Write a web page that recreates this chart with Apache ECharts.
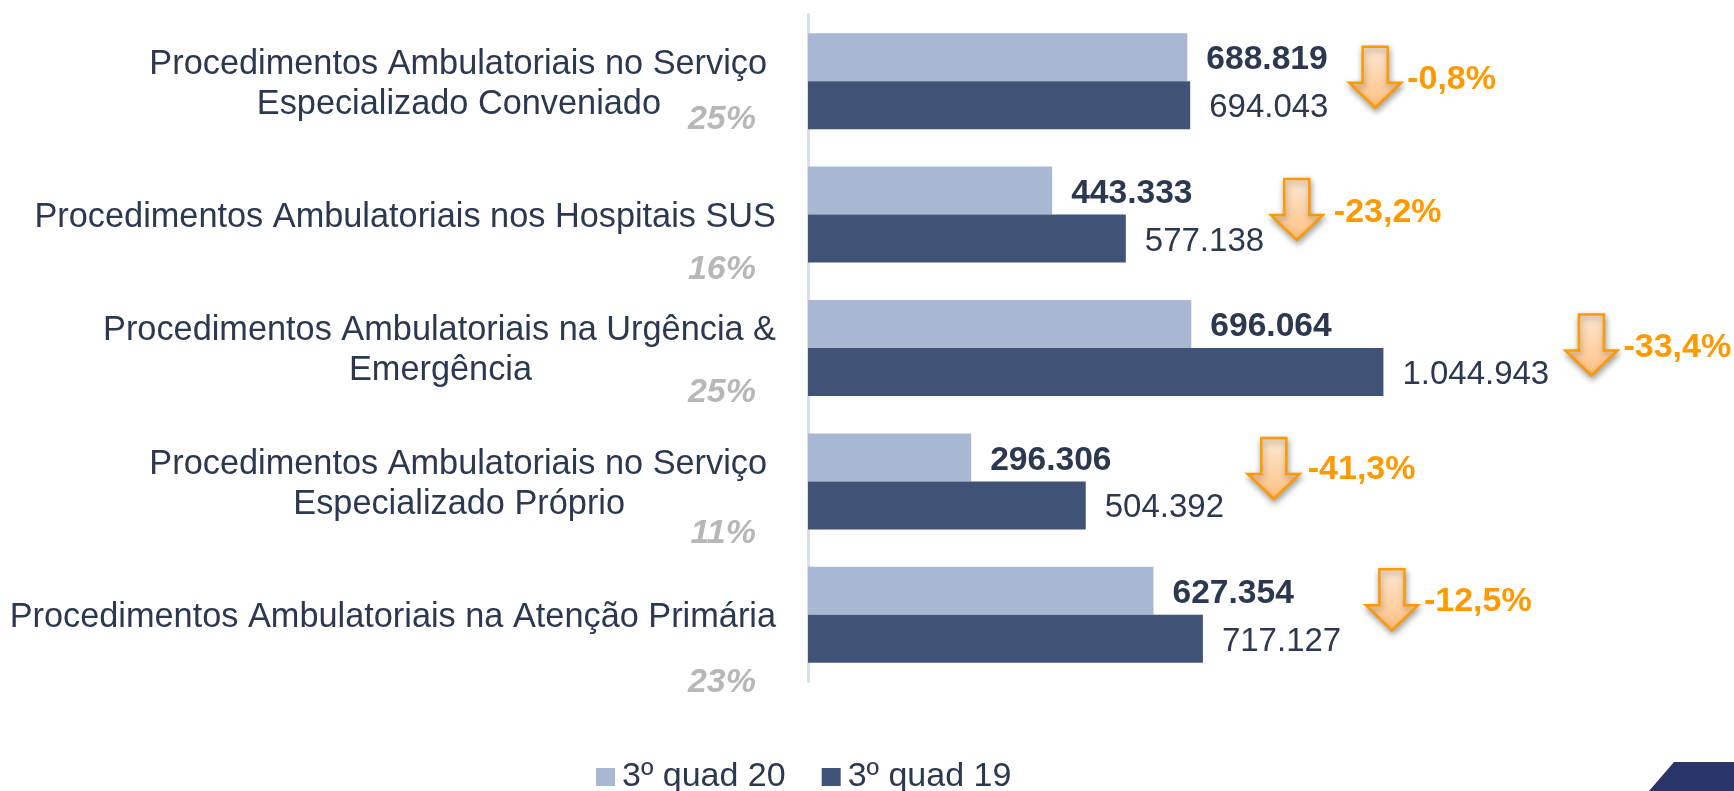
<!DOCTYPE html>
<html><head><meta charset="utf-8">
<style>html,body{margin:0;padding:0;background:#fff}#c{width:1734px;height:791px}</style>
<script src="https://cdn.jsdelivr.net/npm/echarts@6/dist/echarts.min.js"></script>
</head><body><div id="c"></div>
<script>
const categories = [
  'Procedimentos Ambulatoriais no Serviço\nEspecializado Conveniado',
  'Procedimentos Ambulatoriais nos Hospitais SUS',
  'Procedimentos Ambulatoriais na Urgência &\nEmergência',
  'Procedimentos Ambulatoriais no Serviço\nEspecializado Próprio',
  'Procedimentos Ambulatoriais na Atenção Primária'
];
const quad20 = [688819, 443333, 696064, 296306, 627354];
const quad19 = [694043, 577138, 1044943, 504392, 717127];
const shares = ['25%', '16%', '25%', '11%', '23%'];
const deltas = ['-0,8%', '-23,2%', '-33,4%', '-41,3%', '-12,5%'];
const seriesNames = ['3º quad 20', '3º quad 19'];

// layout tweaks for annotations (px), relative to the end of the longer bar / category centre
const arrowDx = [185, 171, 208, 188, 189];
const arrowDy = [-4, -5, -3, -13, -15];
const deltaGap = [6, 11, 6, 8, 6];
const deltaDy = [2.5, 3, 2.5, 1.5, 2];
const shareDy = [38, 55, 45, 52, 68];
const line1Pad = [9, 0, 0, 9, 0];
const line2Pad = [115, 0, 244, 151, 0];

const FONT = '"Liberation Sans", Arial, sans-serif';
const INK = '#2b3850';
const labelRich = {};
line1Pad.forEach((p, i) => {
  labelRich['a' + i] = {fontSize: 34.3, lineHeight: 40, color: INK, fontFamily: FONT, padding: [0, p, 0, 0]};
  labelRich['b' + i] = {fontSize: 34.3, lineHeight: 40, color: INK, fontFamily: FONT, padding: [0, line2Pad[i], 0, 0]};
});

function annot(params, api) {
  const i = params.dataIndex;
  const p = api.coord([api.value(0), i]);
  const axisX = api.coord([0, i])[0];
  const cx = p[0] + arrowDx[i], cy = p[1] + arrowDy[i];
  const sw = 12.5, hw = 26, top = 30.5;
  const pts = [[cx - sw, cy - top], [cx + sw, cy - top], [cx + sw, cy - top + 36], [cx + hw, cy - top + 36],
               [cx, cy + top], [cx - hw, cy - top + 36], [cx - sw, cy - top + 36]];
  return {type: 'group', children: [
    {type: 'polygon', shape: {points: pts}, style: {
      fill: {type: 'linear', x: 0, y: 0, x2: 0, y2: 1, colorStops: [{offset: 0, color: '#fde8d4'}, {offset: 1, color: '#ffc07e'}]},
      stroke: '#ff9900', lineWidth: 2.5, shadowBlur: 6, shadowColor: 'rgba(0,0,0,0.35)', shadowOffsetX: 1, shadowOffsetY: 3}},
    {type: 'text', style: {x: cx + hw + deltaGap[i], y: cy + deltaDy[i], text: deltas[i], fill: '#ff9900',
      font: 'bold 34px ' + FONT, textAlign: 'left', textVerticalAlign: 'middle'}},
    {type: 'text', style: {x: axisX - 52, y: p[1] + shareDy[i], text: shares[i], fill: '#b7b7b7',
      font: 'italic bold 34px ' + FONT, textAlign: 'right', textVerticalAlign: 'middle'}}
  ]};
}

const chart = echarts.init(document.getElementById('c'));
chart.setOption({
  animation: false,
  backgroundColor: '#fff',
  textStyle: {fontFamily: FONT},
  grid: {left: 808, top: 14.5, width: 826, height: 667},
  legend: {
    data: seriesNames, left: 591, top: 755, itemWidth: 19, itemHeight: 18, itemGap: 36,
    icon: 'rect', textStyle: {fontSize: 34, color: INK, fontFamily: FONT, padding: [0, 0, 0, 2]}
  },
  xAxis: {type: 'value', min: 0, max: 1500000, show: false},
  yAxis: {
    type: 'category', inverse: true, data: categories,
    axisLine: {show: true, lineStyle: {color: '#d9dfeb', width: 3}},
    axisTick: {show: false}, splitLine: {show: false},
    axisLabel: {
      margin: 32, align: 'right', interval: 0, padding: [6, 0, 0, 0],
      formatter: (v, i) => v.split('\n').map((t, k) => '{' + (k ? 'b' : 'a') + i + '|' + t + '}').join('\n'),
      rich: labelRich
    }
  },
  series: [
    {name: seriesNames[0], type: 'bar', data: quad20, barWidth: 48, barGap: '0%',
     itemStyle: {color: '#a8b8d2'},
     label: {show: true, position: 'right', distance: 19, offset: [0, 3], fontSize: 33.6, fontWeight: 'bold', color: INK, fontFamily: FONT,
       formatter: p => p.value.toLocaleString('de-DE')}},
    {name: seriesNames[1], type: 'bar', data: quad19, barWidth: 48,
     itemStyle: {color: '#405376'},
     label: {show: true, position: 'right', distance: 19, offset: [0, 3], fontSize: 33, color: INK, fontFamily: FONT,
       formatter: p => p.value.toLocaleString('de-DE')}},
    {type: 'custom', data: quad19.map((v, i) => [v, i]), encode: {x: 0, y: 1},
     renderItem: annot, silent: true, clip: false, z: 5, tooltip: {show: false}}
  ],
  graphic: [{type: 'polygon', silent: true,
    shape: {points: [[1649, 791], [1674, 762], [1734, 762], [1734, 791]]},
    style: {fill: '#2a3468'}}]
});
</script></body></html>
